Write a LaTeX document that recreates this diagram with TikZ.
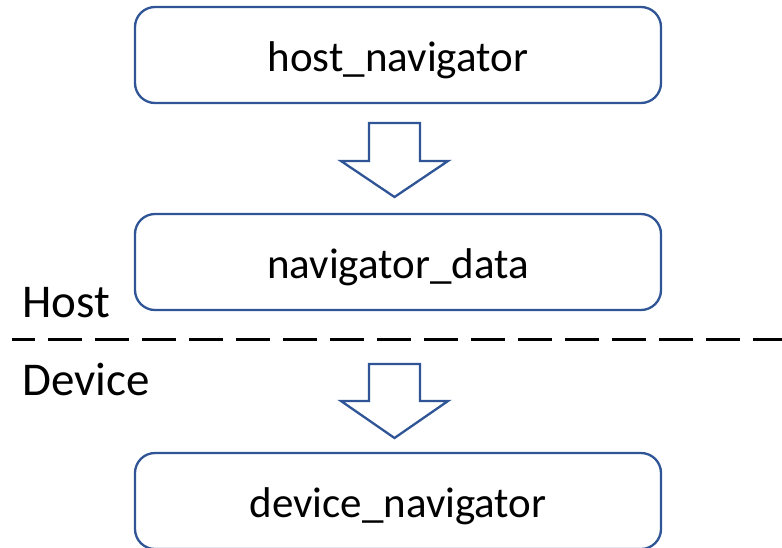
\documentclass[tikz,border=0pt]{standalone}
\usepackage{fontspec}
\setmainfont{Carlito}
\definecolor{boxblue}{HTML}{2F5597}
\tikzset{
  stage/.style={draw=boxblue, line width=2.3pt, rounded corners=20pt, fill=white,
    minimum width=526pt, minimum height=96pt, inner sep=0pt,
    text height=33pt, text depth=0pt,
    font=\fontsize{43pt}{50pt}\selectfont},
  blockarrow/.style={draw=boxblue, line width=2.3pt, fill=white, line join=miter},
  side/.style={anchor=base west, inner sep=0pt, font=\fontsize{47pt}{54pt}\selectfont},
  divider/.style={line width=3pt, dash pattern=on 34pt off 13pt, dash phase=11pt}
}
\begin{document}
\begin{tikzpicture}[x=1pt,y=-1pt]
\useasboundingbox (0,0) rectangle (782,547);
% processing stages
\node[stage] (host) at (398,55) {host\_navigator};
\node[stage] (data) at (398,262) {navigator\_data};
\node[stage] (dev)  at (398,501) {device\_navigator};
% downward block arrows between stages
\draw[blockarrow] (369,123) -- (420,123) -- (420,161) -- (448,161) -- (394.5,197)
  -- (341,161) -- (369,161) -- cycle;
\draw[blockarrow] (369,364) -- (420,364) -- (420,401) -- (448,401) -- (394.5,438)
  -- (341,401) -- (369,401) -- cycle;
% host/device boundary
\coordinate (divL) at (12,339);
\coordinate (divR) at (790,339);
\draw[divider] (divL) -- (divR);
\node[side] (hostlbl) at (22,317) {Host};
\node[side] (devlbl) at (22,395) {Device};
\end{tikzpicture}
\end{document}
